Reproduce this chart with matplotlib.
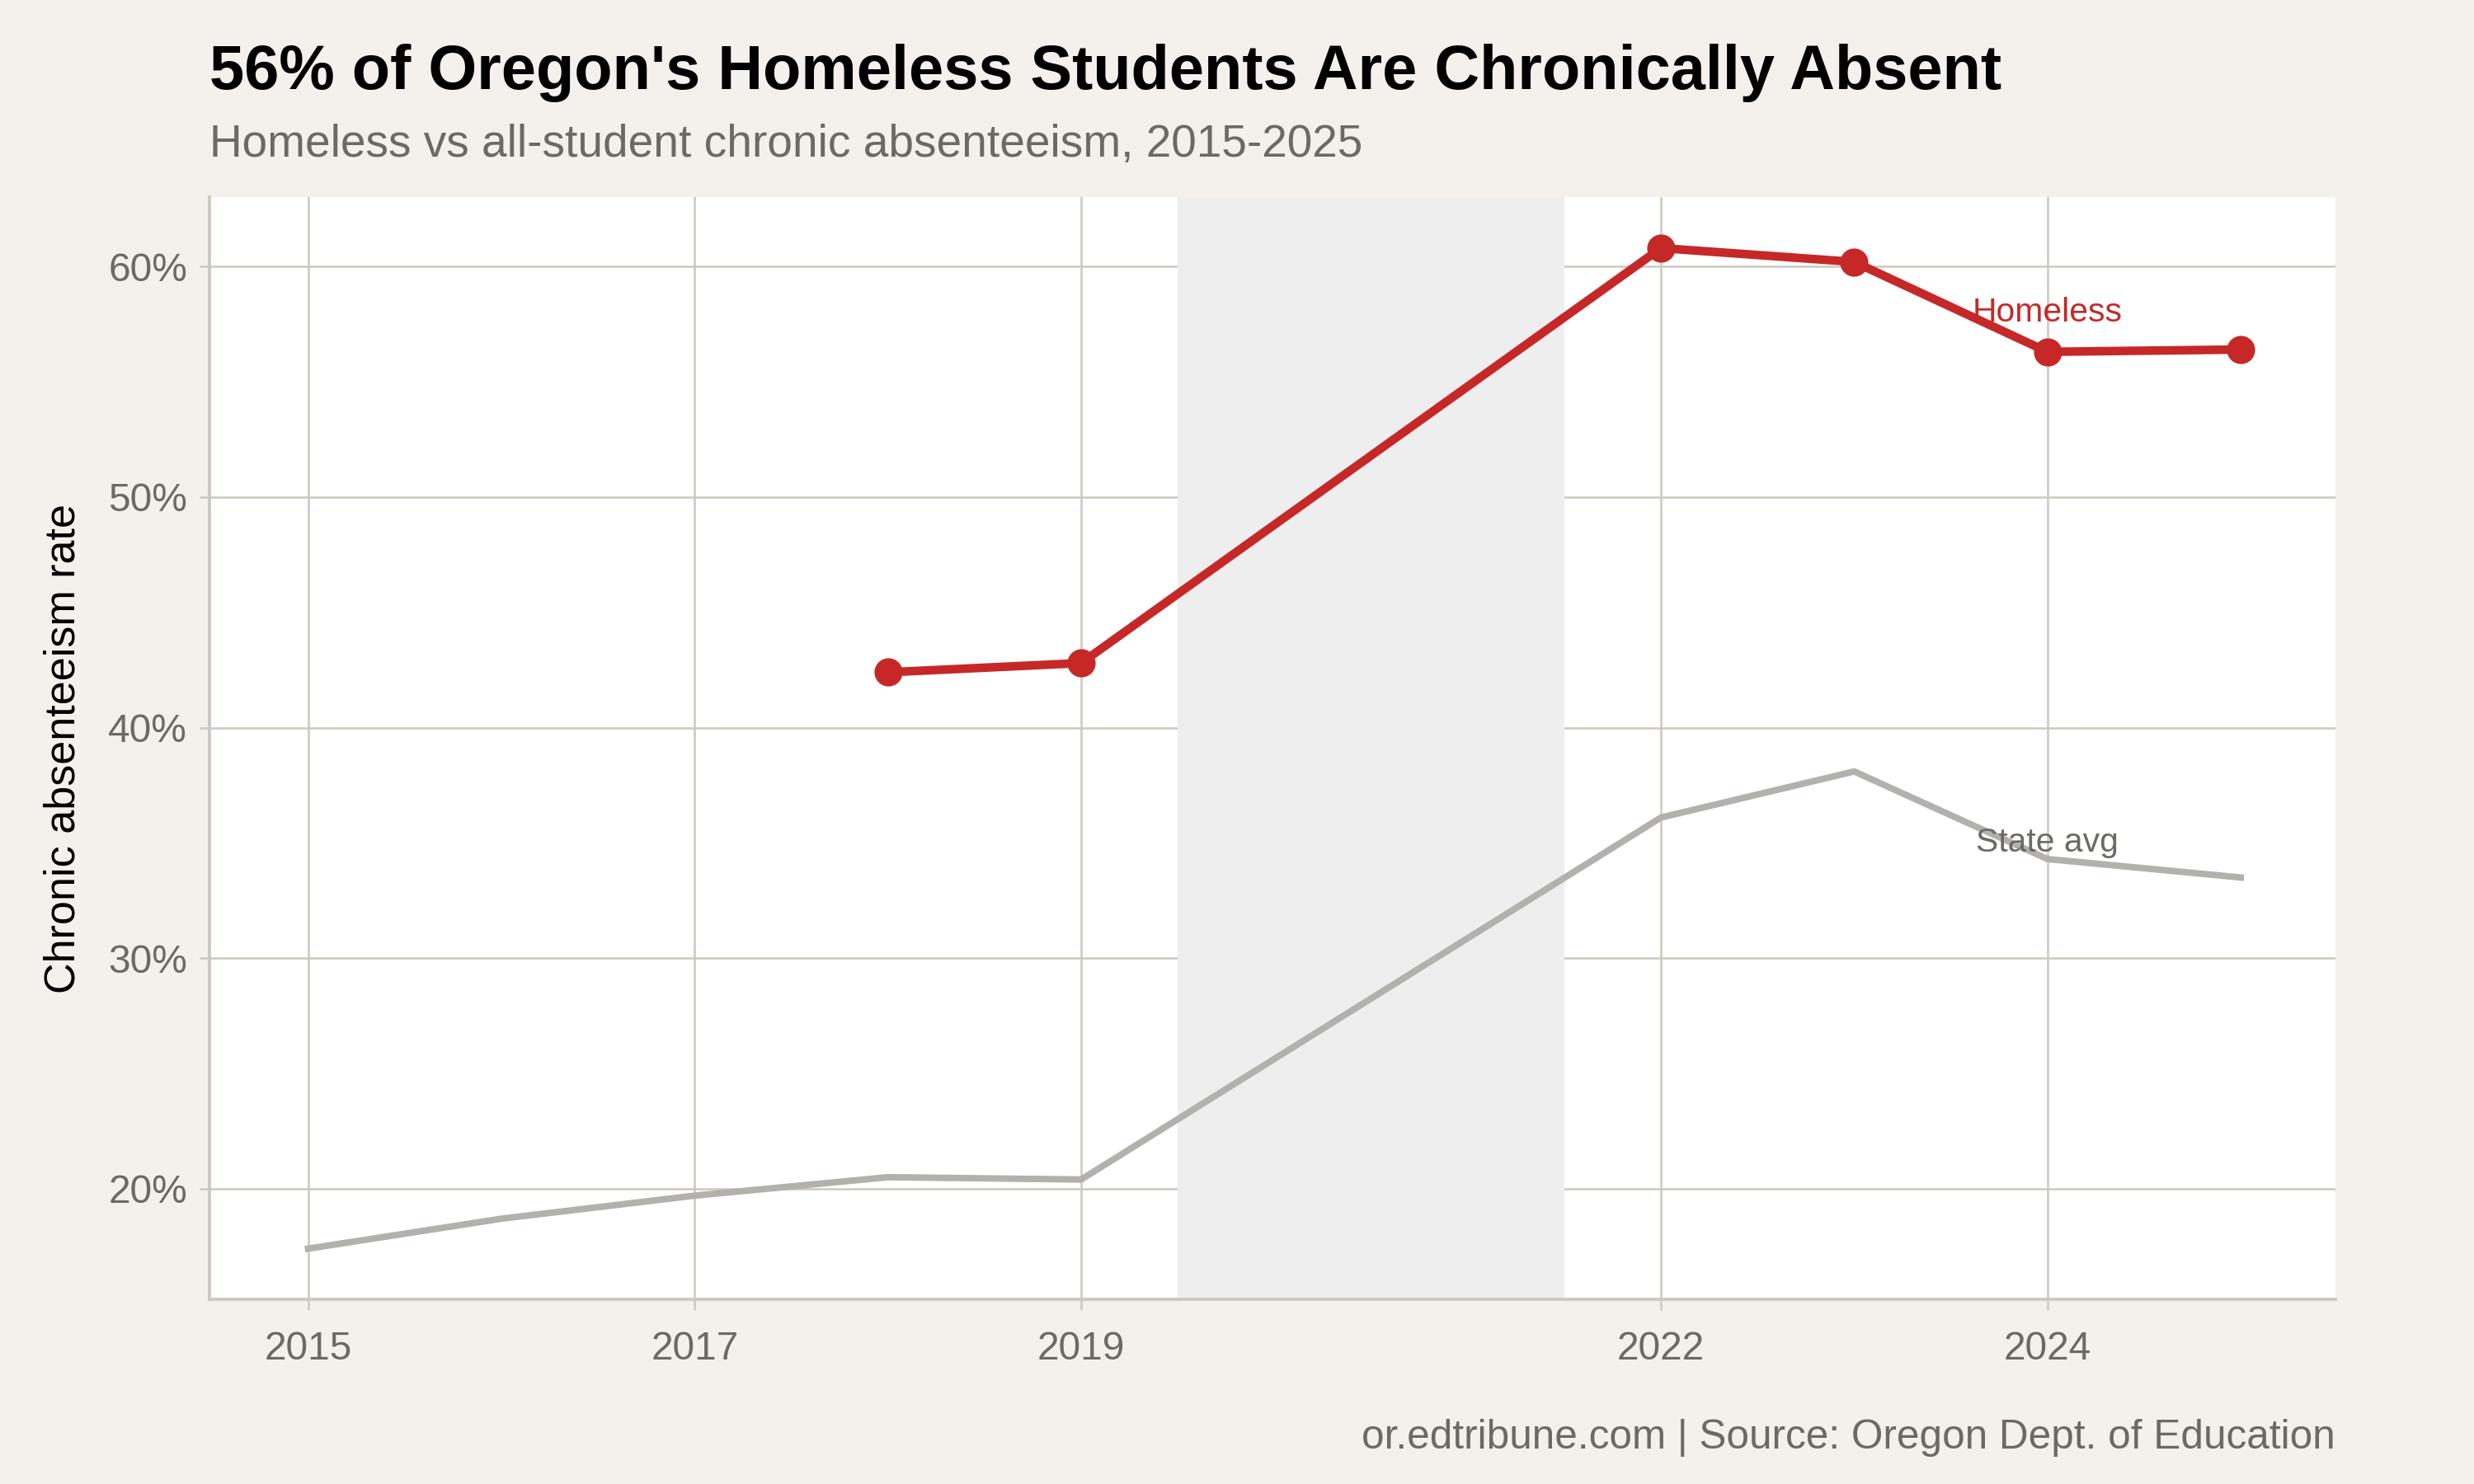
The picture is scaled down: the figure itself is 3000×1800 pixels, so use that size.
import numpy as np
import matplotlib.pyplot as plt
from matplotlib.ticker import FuncFormatter

plt.rcParams['font.family'] = ['Liberation Sans', 'DejaVu Sans']

# data
years_all = [2015, 2016, 2017, 2018, 2019, 2022, 2023, 2024, 2025]
state_avg = [17.4, 18.7, 19.7, 20.5, 20.4, 36.1, 38.1, 34.3, 33.5]

years_homeless = [2018, 2019, 2022, 2023, 2024, 2025]
homeless = [42.4, 42.8, 60.8, 60.2, 56.3, 56.4]

x_ticks = [2015, 2017, 2019, 2022, 2024]
y_ticks = [20, 30, 40, 50, 60]
covid_gap = (2019.5, 2021.5)

bg = '#F4F1EC'
grid_col = '#CCC8C0'
red = '#C62828'
gray_line = '#B3B1AE'
text_gray = '#6B6A65'

fig = plt.figure(figsize=(10, 6), dpi=300, facecolor=bg)
ax = fig.add_axes([0.0847, 0.1244, 0.8593, 0.7426])
ax.set_facecolor('white')

# shaded gap years
ax.axvspan(*covid_gap, color='#EEEEEE', lw=0, zorder=1)

ax.plot(years_all, state_avg, color=gray_line, lw=1.9, zorder=3)
ax.plot(years_homeless, homeless, color=red, lw=2.5, marker='o', ms=7.2, zorder=4)

ax.text(2024, 58.0, 'Homeless', color=red, fontsize=9.8, ha='center', va='center', zorder=5)
ax.text(2024, 35.0, 'State avg', color=text_gray, fontsize=9.8, ha='center', va='center', zorder=5)

ax.set_xlim(2014.49, 2025.49)
ax.set_ylim(15.2, 63.0)
ax.set_xticks(x_ticks)
ax.set_yticks(y_ticks)
ax.yaxis.set_major_formatter(FuncFormatter(lambda v, p: f'{v:.0f}%'))

ax.grid(True, color=grid_col, lw=0.6, zorder=0)
ax.set_axisbelow(True)
for s in ['top', 'right']:
    ax.spines[s].set_visible(False)
for s in ['left', 'bottom']:
    ax.spines[s].set_color(grid_col)
    ax.spines[s].set_linewidth(0.9)
ax.tick_params(axis='both', colors=grid_col, labelcolor=text_gray, labelsize=11.5, length=3, width=0.6)
ax.tick_params(axis='x', pad=6)

ax.set_ylabel('Chronic absenteeism rate', fontsize=12.5, color='black', labelpad=7)

fig.text(0.0847, 0.951, "56% of Oregon's Homeless Students Are Chronically Absent",
         fontsize=18.2, fontweight='bold', color='black', ha='left', va='center')
fig.text(0.0847, 0.902, 'Homeless vs all-student chronic absenteeism, 2015-2025',
         fontsize=13.2, color=text_gray, ha='left', va='center')
fig.text(0.944, 0.031, 'or.edtribune.com | Source: Oregon Dept. of Education',
         fontsize=11.9, color=text_gray, ha='right', va='center')

fig.savefig('out.png', dpi=300, facecolor=bg)
